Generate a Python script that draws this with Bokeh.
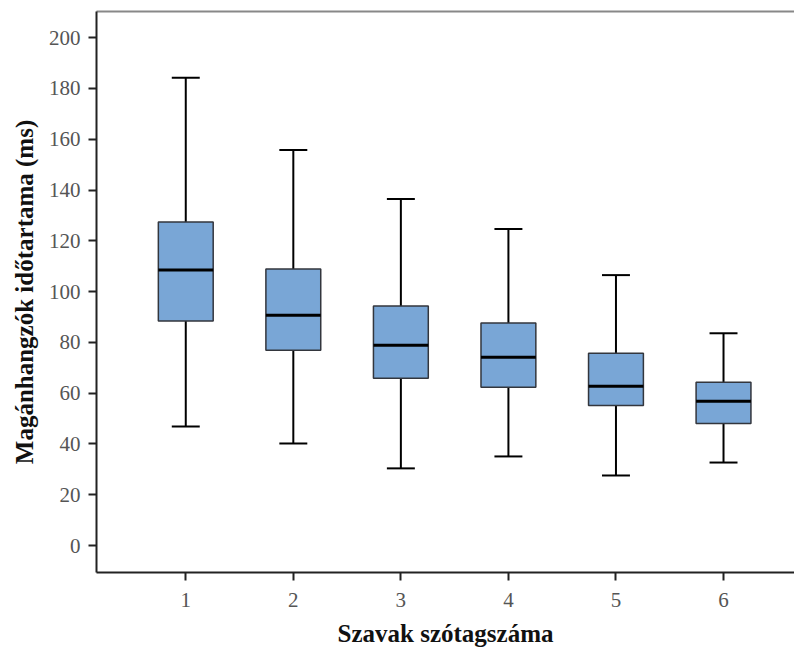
import numpy as np
from bokeh.plotting import figure
from bokeh.models import FixedTicker, LinearAxis, Range1d
from bokeh.embed import file_html
from bokeh.resources import INLINE

categories = [1, 2, 3, 4, 5, 6]
whisker_low = [46.9, 40.2, 30.4, 35.1, 27.6, 32.7]
q1 = [88.4, 76.9, 65.9, 62.3, 55.2, 48.1]
median = [108.5, 90.7, 78.9, 74.2, 62.7, 56.8]
q3 = [127.4, 108.9, 94.3, 87.6, 75.7, 64.3]
whisker_high = [184.2, 155.8, 136.5, 124.7, 106.5, 83.6]
y_ticks = [0, 20, 40, 60, 80, 100, 120, 140, 160, 180, 200]

x = np.array(categories, dtype=float)
box_w = 0.51
cap_w = 0.26

p = figure(width=794, height=649, output_backend="svg", toolbar_location=None,
           x_range=Range1d(0.17, 6.66), y_range=Range1d(-10.6, 210.3),
           min_border_left=96, min_border_right=0, min_border_top=11, min_border_bottom=77)
p.outline_line_color = None
p.xgrid.visible = False
p.ygrid.visible = False
p.background_fill_color = "white"

FONT = "Liberation Serif"

# whiskers
p.segment(x0=x, y0=q3, x1=x, y1=whisker_high, line_color="black", line_width=2)
p.segment(x0=x, y0=whisker_low, x1=x, y1=q1, line_color="black", line_width=2)
p.segment(x0=x - cap_w / 2, y0=whisker_high, x1=x + cap_w / 2, y1=whisker_high, line_color="black", line_width=2)
p.segment(x0=x - cap_w / 2, y0=whisker_low, x1=x + cap_w / 2, y1=whisker_low, line_color="black", line_width=2)
# boxes
p.vbar(x=x, width=box_w, bottom=q1, top=q3, fill_color="#79A6D6", line_color="#33363d", line_width=1.5)
# medians
p.segment(x0=x - box_w / 2, y0=median, x1=x + box_w / 2, y1=median, line_color="black", line_width=3)

# axes
xa = p.xaxis[0]
xa.ticker = FixedTicker(ticks=categories)
xa.axis_label = "Szavak szótagszáma"
ya = p.yaxis[0]
ya.ticker = FixedTicker(ticks=y_ticks)
ya.axis_label = "Magánhangzók időtartama (ms)"
for ax in (xa, ya):
    ax.minor_tick_line_color = None
    ax.major_tick_in = 0
    ax.major_tick_out = 8
    ax.major_tick_line_color = "#222222"
    ax.major_tick_line_width = 2
    ax.axis_line_color = "#222222"
    ax.axis_line_width = 2
    ax.major_label_text_font = FONT
    ax.major_label_text_font_size = "21px"
    ax.major_label_text_color = "#555555"
    ax.axis_label_text_font = FONT
    ax.axis_label_text_font_style = "bold"
    ax.axis_label_text_font_size = "25px"
    ax.axis_label_text_color = "#111111"
xa.major_label_standoff = 12
xa.axis_label_standoff = 10
ya.major_label_standoff = 8
ya.axis_label_standoff = 8

top = LinearAxis(major_tick_line_color=None, minor_tick_line_color=None,
                 major_label_text_font_size="0px", axis_line_color="#888888",
                 axis_line_width=2, major_label_standoff=0)
top.ticker = FixedTicker(ticks=[])
p.add_layout(top, "above")

open("out.html", "w").write(file_html(p, INLINE))
